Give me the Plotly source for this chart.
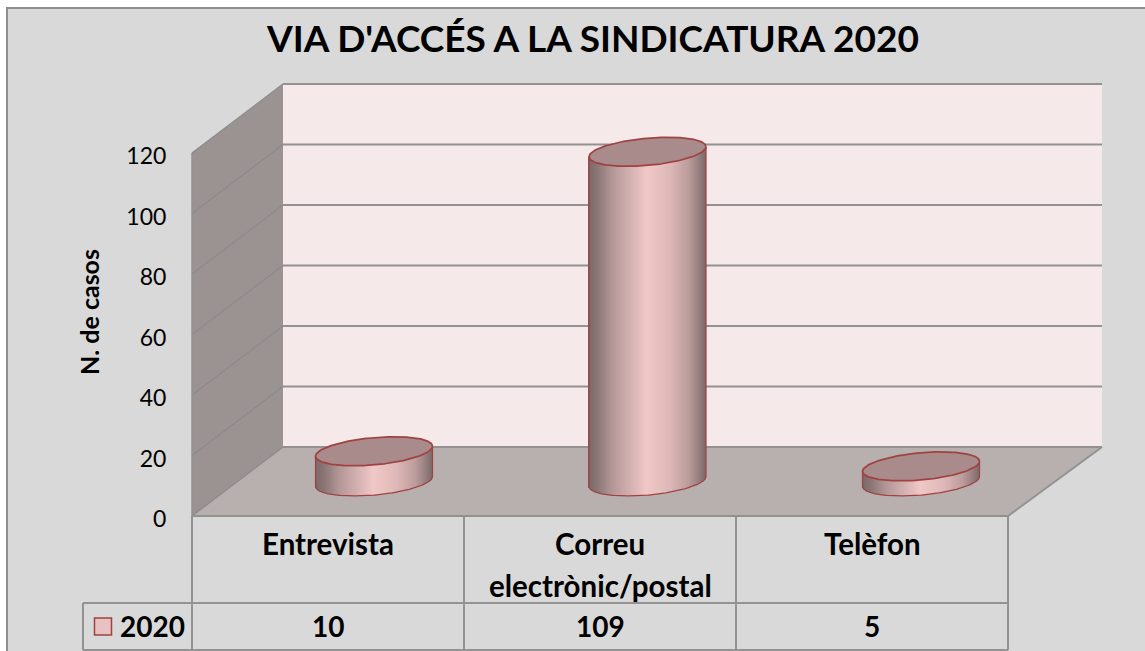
import numpy as np
import plotly.graph_objects as go

# ---- data ----
TITLE = "VIA D'ACCÉS A LA SINDICATURA 2020"
Y_TITLE = "N. de casos"
CATEGORIES = ["Entrevista", "Correu<br>electrònic/postal", "Telèfon"]
SERIES_NAME = "2020"
VALUES_2020 = [10, 109, 5]
Y_TICKS = [0, 20, 40, 60, 80, 100, 120]

# ---- layout / style constants ----
W, H = 1145, 651
FONT = "Lato"
PX_CAT, PX_VAL = 272.0, 3.025      # pixels per category, pixels per value
X0_PX, Y0_PX = 192.0, 516.0        # pixel location of the axes origin
DEPTH_X, DEPTH_Y = 91 / PX_CAT, 69 / PX_VAL   # oblique depth of the 3D box
DEPTH_X_R = 94 / PX_CAT
TABLE_MID = -87 / PX_VAL           # line between category row and value row
TABLE_BOT = -134 / PX_VAL
TABLE_LEFT = -109 / PX_CAT
GRID = "#929292"
EDGE = "#a04242"


def X(px):
    return (px - X0_PX) / PX_CAT


def Y(px):
    return (Y0_PX - px) / PX_VAL


n = len(CATEGORIES)
top = max(Y_TICKS)
fig = go.Figure()

shapes = []


def poly(points, fill=None, line=GRID, lw=1.5, layer="below"):
    path = "M" + " L".join(f"{x:.5f},{y:.4f}" for x, y in points)
    if fill:
        path += " Z"
    shapes.append(dict(type="path", path=path, xref="x", yref="y", layer=layer,
                       fillcolor=fill or "rgba(0,0,0,0)",
                       line=dict(color=line, width=lw) if lw else dict(width=0)))


# chart area
poly([(X(7), Y(8)), (X(1150), Y(8)), (X(1150), Y(660)), (X(7), Y(660))], fill="#d9d9d9", lw=2, line="#8e8e8e")

# walls and floor of the 3D box
poly([(DEPTH_X, DEPTH_Y), (n + DEPTH_X_R, DEPTH_Y), (n + DEPTH_X_R, top + DEPTH_Y), (DEPTH_X, top + DEPTH_Y)],
     fill="#f5e9e9", lw=0)
poly([(0, 0), (DEPTH_X, DEPTH_Y), (DEPTH_X, top + DEPTH_Y), (0, top)], fill="#9a9392", lw=0)
poly([(0, 0), (n, 0), (n + DEPTH_X_R, DEPTH_Y), (DEPTH_X, DEPTH_Y)], fill="#b8afaf", lw=0)

for t in Y_TICKS:
    poly([(DEPTH_X, t + DEPTH_Y), (n + DEPTH_X_R, t + DEPTH_Y)], lw=2)
    poly([(0, t), (DEPTH_X, t + DEPTH_Y)], lw=1.25, line="#8b8b8b")
poly([(0, 0), (0, top)], lw=1.5)
poly([(n, 0), (n + DEPTH_X_R, DEPTH_Y)], lw=2)

# data table grid
poly([(0, 0), (n, 0)], lw=2)
poly([(TABLE_LEFT, TABLE_MID), (n, TABLE_MID)], lw=2)
poly([(TABLE_LEFT, TABLE_BOT), (n, TABLE_BOT)], lw=2)
poly([(TABLE_LEFT, TABLE_MID), (TABLE_LEFT, TABLE_BOT)], lw=2)
for i in range(n + 1):
    poly([(i, 0), (i, TABLE_BOT)], lw=2)

# ---- cylinders ----
A = 58.5 / PX_CAT      # half width
B = 13.6 / PX_VAL      # half height of the ellipse
C = 5.0 / PX_VAL       # tilt of the ellipse
SPACING = 273.5 / PX_CAT
CX_MID = (647.5 - X0_PX) / PX_CAT
BASE = DEPTH_Y / 2

GRAD_POS = [0, 0.08, 0.2, 0.5, 0.7, 0.86, 0.95, 1]
GRAD_R = [122, 140, 178, 241, 222, 188, 150, 124]
GRAD_G = [104, 118, 150, 200, 184, 156, 126, 108]
GRAD_B = [104, 118, 150, 200, 184, 156, 126, 108]

STRIPS = 117
u = (np.arange(STRIPS) + 0.5) / STRIPS * 2 - 1
frac = (u + 1) / 2
colors = [f"rgb({int(r)},{int(g)},{int(b)})" for r, g, b in zip(
    np.interp(frac, GRAD_POS, GRAD_R), np.interp(frac, GRAD_POS, GRAD_G), np.interp(frac, GRAD_POS, GRAD_B))]
t = np.linspace(0, 2 * np.pi, 181)

for i, (cat, v) in enumerate(zip(CATEGORIES, VALUES_2020)):
    cx = CX_MID + (i - 1) * SPACING
    bottom = BASE + C * u - B * np.sqrt(1 - u ** 2)
    upper = BASE + v + C * u
    fig.add_trace(go.Bar(x=cx + A * u, y=upper - bottom, base=bottom, width=2 * A / STRIPS * 1.15,
                         marker=dict(color=colors, line=dict(width=0)), showlegend=False,
                         name=cat.replace("<br>", " "), hoverinfo="skip"))
    # outline of the body
    uu = np.linspace(-1, 1, 121)
    xs = np.r_[cx - A, cx + A * uu, cx + A]
    ys = np.r_[BASE + v - C, BASE + C * uu - B * np.sqrt(1 - uu ** 2), BASE + v + C]
    fig.add_trace(go.Scatter(x=xs, y=ys, mode="lines", line=dict(color=EDGE, width=1.25),
                             showlegend=False, hoverinfo="skip"))
    # top face
    fig.add_trace(go.Scatter(x=cx + A * np.cos(t), y=BASE + v + C * np.cos(t) + B * np.sin(t),
                             mode="lines", fill="toself", fillcolor="#aa8b8b",
                             line=dict(color=EDGE, width=1.75), showlegend=False, hoverinfo="skip"))

# legend key in the data table
fig.add_trace(go.Scatter(x=[X(103)], y=[Y(626.5)], mode="markers", showlegend=False, hoverinfo="skip",
                         marker=dict(symbol="square", size=17, color="#e8c2c2",
                                     line=dict(color=EDGE, width=1.5))))

ann = []
LABEL = dict(family=FONT, color="#000000", size=29.5)
VALUE = dict(family=FONT, color="#000000", size=28)
for i, (cat, v) in enumerate(zip(CATEGORIES, VALUES_2020)):
    for k, part in enumerate(cat.split("<br>")):
        ann.append(dict(x=i + 0.5, y=Y(543 + 42 * k), yanchor="middle", text=f"<b>{part}</b>", showarrow=False,
                        font=LABEL, xanchor="center", align="center"))
    ann.append(dict(x=i + 0.5, y=Y(626), yanchor="middle", text=f"<b>{v}</b>", showarrow=False,
                    font=VALUE, xanchor="center"))
ann.append(dict(x=X(152), y=Y(626), yanchor="middle", text=f"<b>{SERIES_NAME}</b>", showarrow=False,
                font=VALUE, xanchor="center"))
ann.append(dict(x=X(89), y=Y(312), text=f"<b>{Y_TITLE}</b>", textangle=-90, showarrow=False,
                font=dict(family=FONT, color="#000000", size=25), xanchor="center", yanchor="middle"))

fig.update_layout(
    width=W, height=H, margin=dict(l=0, r=0, t=0, b=0),
    paper_bgcolor="#ffffff", plot_bgcolor="rgba(0,0,0,0)",
    barmode="overlay", bargap=0, showlegend=False, shapes=shapes, annotations=ann,
    font=dict(family=FONT, color="#000000"),
    title=dict(text=f"<b>{TITLE}</b>", x=593 / W, xanchor="center", y=1 - 39 / H, yanchor="middle",
               font=dict(family=FONT, size=37, color="#000000")),
    xaxis=dict(range=[X(0), X(W)], visible=False, fixedrange=True),
    yaxis=dict(range=[Y(H), Y(0)], tickvals=Y_TICKS, ticktext=[str(v) for v in Y_TICKS],
               anchor="free", position=X0_PX / W, showgrid=False, zeroline=False, showline=False,
               ticks="outside", ticklen=21, tickcolor="rgba(0,0,0,0)", ticklabelshift=3,
               tickfont=dict(family=FONT, size=23, color="#000000"), fixedrange=True),
)

fig.write_html("out.html", config=dict(displayModeBar=False),
               post_script="document.body.style.margin='0';document.body.style.overflow='hidden';")
